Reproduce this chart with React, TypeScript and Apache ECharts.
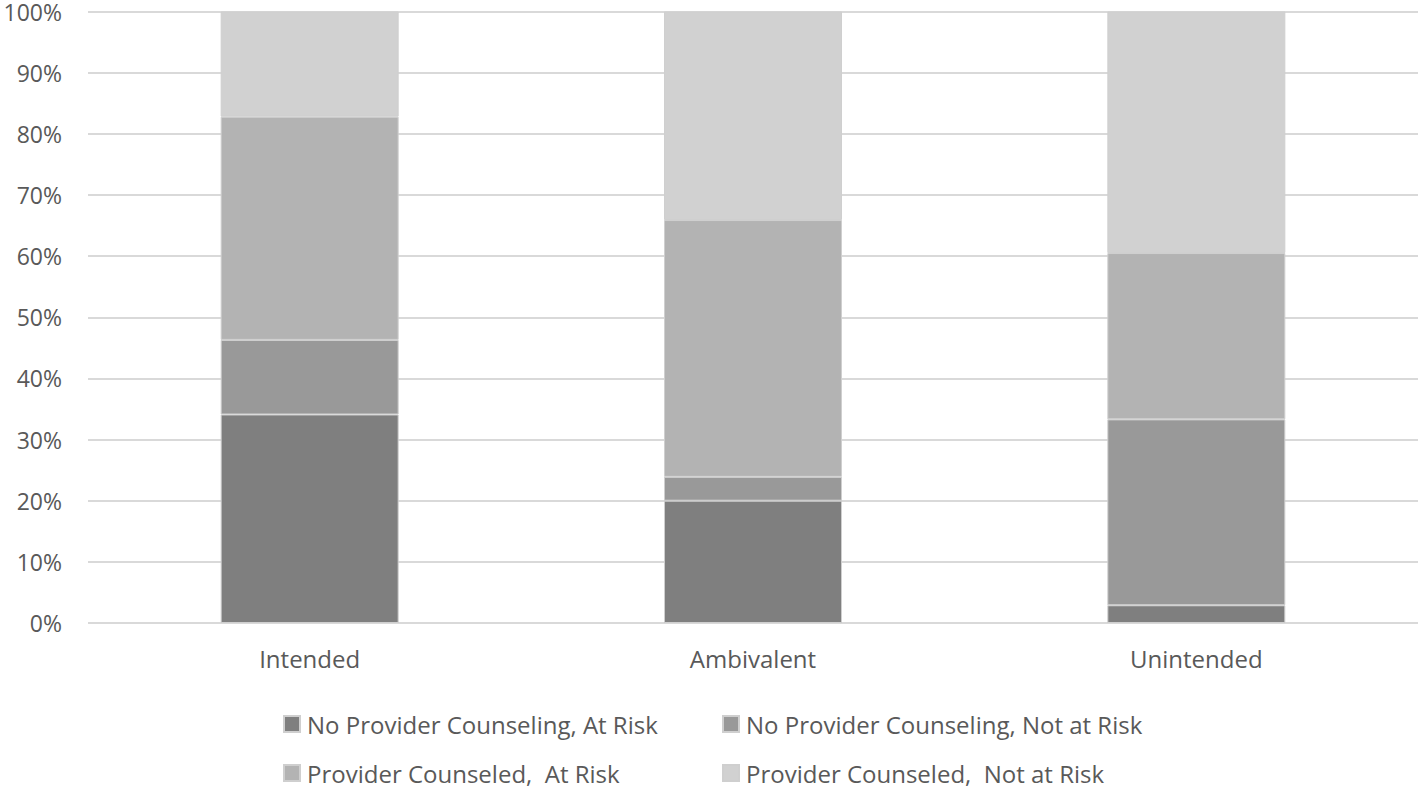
import React, { useEffect, useRef } from "react";
import * as echarts from "echarts";

const categories = ["Intended", "Ambivalent", "Unintended"];
const seriesNames = [
  "No Provider Counseling, At Risk",
  "No Provider Counseling, Not at Risk",
  "Provider Counseled,  At Risk",
  "Provider Counseled,  Not at Risk",
];
const noCounselAtRisk = [34.1, 20.0, 2.9];
const noCounselNotAtRisk = [12.2, 3.9, 30.4];
const counseledAtRisk = [36.5, 42.0, 27.2];
const counseledNotAtRisk = [17.2, 34.1, 39.5];
const seriesColors = ["#7f7f7f", "#999999", "#b3b3b3", "#d1d1d1"];
const yTicks = [0, 10, 20, 30, 40, 50, 60, 70, 80, 90, 100];

const FONT = "'Open Sans', 'DejaVu Sans', sans-serif";

export default function App() {
  const ref = useRef<HTMLDivElement>(null);
  useEffect(() => {
    if (!ref.current) return;
    const chart = echarts.init(ref.current, undefined, { renderer: "svg" });
    const values = [noCounselAtRisk, noCounselNotAtRisk, counseledAtRisk, counseledNotAtRisk];
    const legendPos = [
      { left: 278, top: 707 },
      { left: 717, top: 707 },
      { left: 278, top: 756 },
      { left: 717, top: 756 },
    ];
    chart.setOption({
      animation: false,
      backgroundColor: "#ffffff",
      textStyle: { fontFamily: FONT },
      grid: { left: 88, right: 0, top: 10, bottom: 167, containLabel: false },
      legend: seriesNames.map((n, i) => ({
        data: [n],
        left: legendPos[i].left,
        top: legendPos[i].top,
        itemWidth: 16,
        itemHeight: 16,
        itemGap: 0,
        icon: "rect",
        selectedMode: false,
        textStyle: { fontSize: 24, lineHeight: 24, color: "#595959", fontFamily: FONT, padding: [0, 0, 0, 2] },
      })),
      xAxis: {
        type: "category",
        data: categories,
        axisLine: { show: false },
        axisTick: { show: false },
        axisLabel: { fontSize: 24, color: "#595959", margin: 23, fontFamily: FONT },
      },
      yAxis: {
        type: "value",
        min: 0,
        max: 100,
        interval: 10,
        axisLine: { show: false },
        axisTick: { show: false },
        splitLine: { lineStyle: { color: "#d9d9d9", width: 2 } },
        axisLabel: {
          fontSize: 23,
          color: "#595959",
          margin: 26,
          fontFamily: FONT,
          formatter: (v: number) => (yTicks.includes(v) ? v + "%" : ""),
        },
      },
      series: seriesNames.map((n, i) => ({
        name: n,
        type: "bar",
        stack: "total",
        barWidth: 178,
        data: values[i],
        itemStyle: { color: seriesColors[i], borderColor: "#cfcfcf", borderWidth: 1 },
      })),
    });
    return () => chart.dispose();
  }, []);
  return (
    <div
      ref={ref}
      style={{ position: "fixed", left: 0, top: 0, width: 1418, height: 790, background: "#fff" }}
    />
  );
}
